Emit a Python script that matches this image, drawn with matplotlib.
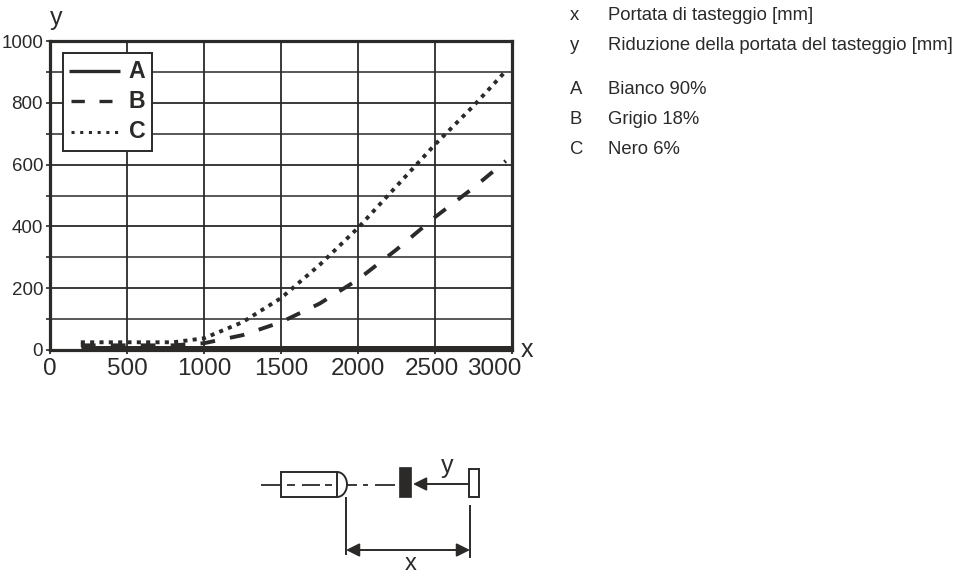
import matplotlib
matplotlib.use('Agg')
import matplotlib.pyplot as plt
from matplotlib import font_manager
from matplotlib.patches import Rectangle, Arc
from matplotlib.transforms import ScaledTranslation

DARK = '#2b2a29'
W, H = 956, 575
plt.rcParams['font.family'] = ['Liberation Sans', 'DejaVu Sans']

# values
x_a = [200, 3000]
y_a = [5, 5]
x_b = [200, 500, 800, 1000, 1250, 1500, 1750, 2000, 2250, 2500, 2750, 2960]
y_b = [15, 15, 15, 22, 48, 90, 150, 228, 325, 430, 525, 612]
x_c = [200, 500, 800, 1000, 1250, 1500, 1750, 2000, 2250, 2500, 2750, 2960]
y_c = [25, 25, 25, 38, 90, 168, 275, 395, 530, 665, 790, 903]
x_ticks = [0, 500, 1000, 1500, 2000, 2500, 3000]
y_ticks = [0, 200, 400, 600, 800, 1000]
y_minor = [100, 300, 500, 700, 900]
key_symbols = ['x', 'y', 'A', 'B', 'C']
key_labels = ['Portata di tasteggio [mm]', 'Riduzione della portata del tasteggio [mm]',
              'Bianco 90%', 'Grigio 18%', 'Nero 6%']
key_rows = [15, 45, 90, 120, 150]

DASHED = (0, (3.8, 3.9))
DOTTED = (0, (1.05, 1.35))


def box(px0, py0, px1, py1):
    # pixel box -> figure fraction rect
    return [px0 / W, 1 - py1 / H, (px1 - px0) / W, (py1 - py0) / H]


fig = plt.figure(figsize=(W / 100, H / 100), dpi=100)

ax = fig.add_axes(box(50, 41, 512, 350))
ax.plot(x_c, y_c, color=DARK, lw=2.8, ls=DOTTED, zorder=3)
ax.plot(x_b, y_b, color=DARK, lw=2.8, ls=DASHED, zorder=3)
ax.plot(x_a, y_a, color=DARK, lw=3.6, solid_capstyle='butt', clip_on=False, zorder=3)
ax.set_xlim(0, 3000)
ax.set_ylim(0, 1000)
ax.set_xticks(x_ticks)
ax.set_yticks(y_ticks)
ax.set_yticks(y_minor, minor=True)
ax.grid(True, which='major', color=DARK, lw=1.3)
ax.grid(True, which='minor', axis='y', color=DARK, lw=1.1)
ax.set_axisbelow(True)

# the y numbers are narrower than the x numbers in the original
have_narrow = 'Liberation Sans Narrow' in {f.name for f in font_manager.fontManager.ttflist}
ax.tick_params(axis='x', length=3, width=1.3, color=DARK, labelcolor=DARK, labelsize=17.5, pad=2.5)
ax.tick_params(axis='y', which='both', length=3, width=1.2, color=DARK, labelcolor=DARK, pad=2)
for lab in ax.get_yticklabels():
    if have_narrow:
        lab.set_fontfamily('Liberation Sans Narrow')
        lab.set_fontsize(16)
    else:
        lab.set_fontsize(13.5)
# last x labels sit further left so they do not run into the x
nudge = {5: -3, 6: -18}
for i, lab in enumerate(ax.get_xticklabels()):
    if i in nudge:
        lab.set_transform(lab.get_transform() + ScaledTranslation(nudge[i] / 100, 0, fig.dpi_scale_trans))
for s in ax.spines.values():
    s.set_color(DARK)
    s.set_linewidth(2.3)

# overlay in pixel coords for labels, legend box, key and sensor sketch
ov = fig.add_axes([0, 0, 1, 1], facecolor='none')
ov.set_xlim(0, W)
ov.set_ylim(H, 0)
ov.axis('off')
ov.text(56, 18, 'y', fontsize=18, color=DARK, ha='center', va='center')
ov.text(526.5, 350, 'x', fontsize=18, color=DARK, ha='center', va='center')

# legend
ov.add_patch(Rectangle((63, 53), 89, 98, fc='white', ec=DARK, lw=1.4))
ov.plot([69, 120], [71, 71], color=DARK, lw=2.4, solid_capstyle='butt')
ov.plot([71, 112], [101, 101], color=DARK, lw=2.4, ls=(0, (4, 4.4)))
ov.plot([71, 119], [131.5, 131.5], color=DARK, lw=2.2, ls=(0, (1, 1.85)))
for row, name in zip([71, 101, 131], ['A', 'B', 'C']):
    ov.text(137, row, name, fontsize=16.7, fontweight='bold', color=DARK, ha='center', va='center')

for row, sym, label in zip(key_rows, key_symbols, key_labels):
    ov.text(570, row, sym, fontsize=13.3, color=DARK, va='center', ha='left')
    ov.text(608, row, label, fontsize=13.3, color=DARK, va='center', ha='left')

# sensor housing
ov.add_patch(Rectangle((281, 472), 56, 25, fc='white', ec=DARK, lw=1.4))
ov.add_patch(Arc((337, 484.5), 20, 25, theta1=-90, theta2=90, ec=DARK, lw=1.4))
# optical axis
axis_segments = [(261, 281), (287, 295), (302, 320), (325, 332), (347, 357), (363, 368), (375, 395)]
for a, b in axis_segments:
    ov.plot([a, b], [485, 485], color=DARK, lw=1.3, solid_capstyle='butt')
# black target and white reflector
ov.add_patch(Rectangle((399, 467), 12, 30, fc=DARK, ec=DARK, lw=0.5))
ov.add_patch(Rectangle((469, 468.5), 10, 28.5, fc='white', ec=DARK, lw=1.4))
# y arrow
ov.annotate('', xy=(413, 484), xytext=(469, 484),
            arrowprops=dict(arrowstyle='-|>,head_length=0.8,head_width=0.4', color=DARK, lw=1.4, shrinkA=0, shrinkB=0))
ov.text(447.5, 466, 'y', fontsize=18, color=DARK, ha='center', va='center')
# x dimension
ov.plot([346, 346], [498, 554], color=DARK, lw=1.4)
ov.plot([470, 470], [506, 557], color=DARK, lw=1.4)
ov.annotate('', xy=(346, 550), xytext=(470, 550),
            arrowprops=dict(arrowstyle='<|-|>,head_length=0.8,head_width=0.4', color=DARK, lw=1.4, shrinkA=0, shrinkB=0))
ov.text(410.5, 564, 'x', fontsize=17, color=DARK, ha='center', va='center')

fig.savefig('out.png', dpi=100)
